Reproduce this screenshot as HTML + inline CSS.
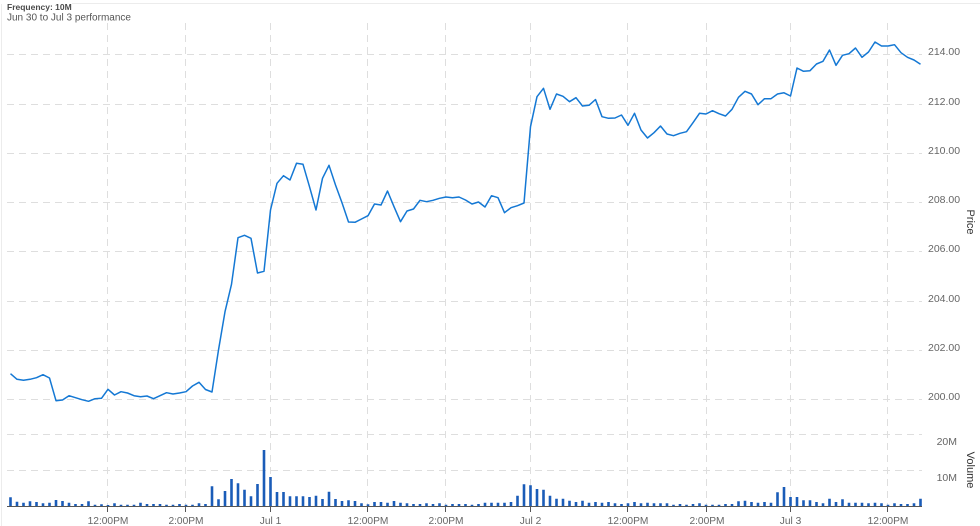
<!DOCTYPE html>
<html>
<head>
<meta charset="utf-8">
<style>
  html, body { margin: 0; padding: 0; background: #fff; }
  body { width: 980px; height: 526px; overflow: hidden; position: relative; font-family: "Liberation Sans", Arial, sans-serif; }
  svg { position: absolute; left: 0; top: 0; }
</style>
</head>
<body>
<svg width="980" height="526" viewBox="0 0 980 526" xmlns="http://www.w3.org/2000/svg" font-family="Liberation Sans, Arial, sans-serif">
  <!-- frame lines -->
  <line x1="72" y1="3.5" x2="980" y2="3.5" stroke="#ececec" stroke-width="1"/>
  <line x1="1.5" y1="4" x2="1.5" y2="526" stroke="#ececec" stroke-width="1"/>

  <!-- title -->
  <text x="7" y="10" font-size="8.5" font-weight="bold" fill="#4a4a4a">Frequency: 10M</text>
  <text x="7" y="20.7" font-size="10" fill="#555">Jun 30 to Jul 3 performance</text>

  <!-- horizontal grid (price) -->
  <g stroke="#dedede" stroke-width="1" stroke-dasharray="7,5">
    <line x1="7" y1="54.5" x2="922" y2="54.5"/>
    <line x1="7" y1="104.5" x2="922" y2="104.5"/>
    <line x1="7" y1="153.5" x2="922" y2="153.5"/>
    <line x1="7" y1="202.5" x2="922" y2="202.5"/>
    <line x1="7" y1="251.5" x2="922" y2="251.5"/>
    <line x1="7" y1="301.5" x2="922" y2="301.5"/>
    <line x1="7" y1="350.5" x2="922" y2="350.5"/>
    <line x1="7" y1="399.5" x2="922" y2="399.5"/>
    <line x1="7" y1="434.5" x2="922" y2="434.5"/>
    <line x1="7" y1="470.5" x2="922" y2="470.5"/>
  </g>
  <!-- vertical grid -->
  <g stroke="#dedede" stroke-width="1" stroke-dasharray="7,5">
    <line x1="107.5" y1="23" x2="107.5" y2="506"/>
    <line x1="185.5" y1="23" x2="185.5" y2="506"/>
    <line x1="270.5" y1="23" x2="270.5" y2="506"/>
    <line x1="367.5" y1="23" x2="367.5" y2="506"/>
    <line x1="445.5" y1="23" x2="445.5" y2="506"/>
    <line x1="530.5" y1="23" x2="530.5" y2="506"/>
    <line x1="627.5" y1="23" x2="627.5" y2="506"/>
    <line x1="706.5" y1="23" x2="706.5" y2="506"/>
    <line x1="790.5" y1="23" x2="790.5" y2="506"/>
    <line x1="887.5" y1="23" x2="887.5" y2="506"/>
  </g>

  <!-- price labels -->
  <g font-size="10.5" fill="#666">
    <text x="928" y="55">214.00</text>
    <text x="928" y="105">212.00</text>
    <text x="928" y="154">210.00</text>
    <text x="928" y="203">208.00</text>
    <text x="928" y="252">206.00</text>
    <text x="928" y="302">204.00</text>
    <text x="928" y="351">202.00</text>
    <text x="928" y="400">200.00</text>
  </g>
  <g font-size="10.5" fill="#666" text-anchor="end">
    <text x="957" y="445">20M</text>
    <text x="957" y="481">10M</text>
  </g>
  <text transform="translate(967,222) rotate(90)" font-size="11" fill="#333" text-anchor="middle">Price</text>
  <text transform="translate(967,470) rotate(90)" font-size="11" fill="#333" text-anchor="middle">Volume</text>

  <!-- volume bars -->
  <path fill="none" stroke="#1a5cb8" stroke-width="2.6" d="
M10.5 506V497.3 M17 506V501.7 M23.5 506V502.7 M30 506V501.3 M36.5 506V502 M43 506V503.3 M49.5 506V502.7 M56 506V500 M62.5 506V501 M69 506V502.7
M75.5 506V504 M82 506V504 M88.5 506V501.3 M95 506V504.7 M101.5 506V504.3 M108 506V505 M114.5 506V503.3 M121 506V504.7 M127.5 506V504.7 M134 506V504.7
M140.5 506V502.7 M147 506V504 M153.5 506V504 M160 506V504 M166.5 506V504.7 M173 506V504.7 M179.5 506V504 M186 506V504.7 M192.5 506V504.7 M199 506V503.3
M205.5 506V504 M212 506V486.3 M218.5 506V499.3 M225 506V491 M231.5 506V479 M238 506V483.3 M244.5 506V489.7 M251 506V496.3 M257.5 506V484 M264 506V450
M270.5 506V477 M277 506V492 M283.5 506V492 M290 506V496.3 M296.5 506V496.3 M303 506V496.3 M309.5 506V497 M316 506V495.7 M322.5 506V499 M329 506V491.7
M335.5 506V499 M342 506V501 M348.5 506V500.3 M355 506V501 M361.5 506V503.3 M368 506V504.3 M374.5 506V502 M381 506V502 M387.5 506V502.7 M394 506V501
M400.5 506V502.7 M407 506V503.3 M413.5 506V504 M420 506V504 M426.5 506V503.3 M433 506V504 M439.5 506V503.3 M446 506V504.7 M452.5 506V504 M459 506V504
M465.5 506V504 M472 506V504.7 M478.5 506V504 M485 506V502.7 M491.5 506V502.7 M498 506V502.7 M504.5 506V502.7 M511 506V502 M517.5 506V495.7 M524 506V484.3
M530.5 506V485.3 M537 506V489 M543.5 506V489.7 M550 506V495.7 M556.5 506V498.7 M563 506V498.7 M569.5 506V500.7 M576 506V502 M582.5 506V500.7 M589 506V502.7
M595.5 506V502 M602 506V502.7 M608.5 506V502 M615 506V503.3 M621.5 506V504 M628 506V503.3 M634.5 506V502 M641 506V503.3 M647.5 506V502.7 M654 506V503.3
M660.5 506V503.3 M667 506V503.3 M673.5 506V504.7 M680 506V504 M686.5 506V504.7 M693 506V504 M699.5 506V503.3 M706 506V504.7 M712.5 506V504.7 M719 506V504.7
M725.5 506V504 M732 506V504 M738.5 506V501.3 M745 506V500.7 M751.5 506V502 M758 506V502.7 M764.5 506V502 M771 506V502.7 M777.5 506V492.3 M784 506V487
M790.5 506V497 M797 506V497 M803.5 506V500.3 M810 506V500.3 M816.5 506V502 M823 506V503.3 M829.5 506V498.7 M836 506V502 M842.5 506V499.3 M849 506V502.7
M855.5 506V502.7 M862 506V502.7 M868.5 506V503.3 M875 506V502.7 M881.5 506V503.3 M888 506V504.7 M894.5 506V503.3 M901 506V504 M907.5 506V504 M914 506V503.3
M920.5 506V498.7"/>

  <!-- x axis -->
  <line x1="7" y1="506.5" x2="922" y2="506.5" stroke="#555" stroke-width="1"/>
  <g stroke="#555" stroke-width="1">
    <line x1="107.5" y1="506" x2="107.5" y2="512"/>
    <line x1="185.5" y1="506" x2="185.5" y2="512"/>
    <line x1="270.5" y1="506" x2="270.5" y2="512"/>
    <line x1="367.5" y1="506" x2="367.5" y2="512"/>
    <line x1="445.5" y1="506" x2="445.5" y2="512"/>
    <line x1="530.5" y1="506" x2="530.5" y2="512"/>
    <line x1="627.5" y1="506" x2="627.5" y2="512"/>
    <line x1="706.5" y1="506" x2="706.5" y2="512"/>
    <line x1="790.5" y1="506" x2="790.5" y2="512"/>
    <line x1="887.5" y1="506" x2="887.5" y2="512"/>
  </g>
  <g font-size="10.2" fill="#666" text-anchor="middle">
    <text x="108" y="524">12:00PM</text>
    <text x="186" y="524">2:00PM</text>
    <text x="270.5" y="524">Jul 1</text>
    <text x="368" y="524">12:00PM</text>
    <text x="446" y="524">2:00PM</text>
    <text x="530.5" y="524">Jul 2</text>
    <text x="628" y="524">12:00PM</text>
    <text x="707" y="524">2:00PM</text>
    <text x="790.5" y="524">Jul 3</text>
    <text x="888" y="524">12:00PM</text>
  </g>

  <!-- price line -->
  <polyline fill="none" stroke="#1478d4" stroke-width="1.5" stroke-linejoin="round" points="
10.5,373.7 17,379.3 23.5,380.3 30,379.3 36.5,377.7 43,374.7 49.5,378 56,400.7 62.5,400 69,395.7
75.5,397.7 82,399.7 88.5,401.3 95,398.7 101.5,398.3 108,389.3 114.5,395 121,391.7 127.5,393 134,395.7
140.5,396.7 147,396 153.5,398.7 160,395.7 166.5,392.7 173,394 179.5,393 186,391.7 192.5,386 199,382.3
205.5,389.5 212,392 218.5,350 225,311.7 231.5,284.3 238,237.7 244.5,235.3 251,238.3 257.5,273 264,271.3
270.5,210 277,183.3 283.5,175.7 290,180 296.5,163.3 303,164.3 309.5,186.7 316,210 322.5,178.3 329,165.3
335.5,185 342,202.7 348.5,222 355,222.3 361.5,219 368,215.7 374.5,204 381,205 387.5,191 394,206.7
400.5,221.7 407,211 413.5,209 420,200.3 426.5,201.7 433,200.3 439.5,198.3 446,197 452.5,197.7 459,197
465.5,200 472,204 478.5,202 485,207 491.5,195.7 498,197.7 504.5,212.7 511,207.7 517.5,205.7 524,203
530.5,126.7 537,96.7 543.5,88.3 550,109.3 556.5,94 563,96.3 569.5,101.7 576,97.7 582.5,106 589,105.3
595.5,99.5 602,116.7 608.5,118.3 615,118 621.5,115 628,125.3 634.5,113.3 641,130 647.5,138 654,132.7
660.5,126 667,134 673.5,135.7 680,133.3 686.5,131.7 693,122.7 699.5,113.3 706,114 712.5,110.7 719,113.7
725.5,116 732,109.3 738.5,97.3 745,91.3 751.5,94 758,104.7 764.5,98.7 771,98.7 777.5,94 784,92.8
790.5,96 797,68 803.5,71.3 810,70.7 816.5,64 823,61.3 829.5,50 836,65.3 842.5,55.3 849,53.7
855.5,48 862,57.3 868.5,52 875,42 881.5,46 888,46 894.5,44.7 901,52.7 907.5,57.3 914,60
920.5,64.3"/>
</svg>
</body>
</html>
